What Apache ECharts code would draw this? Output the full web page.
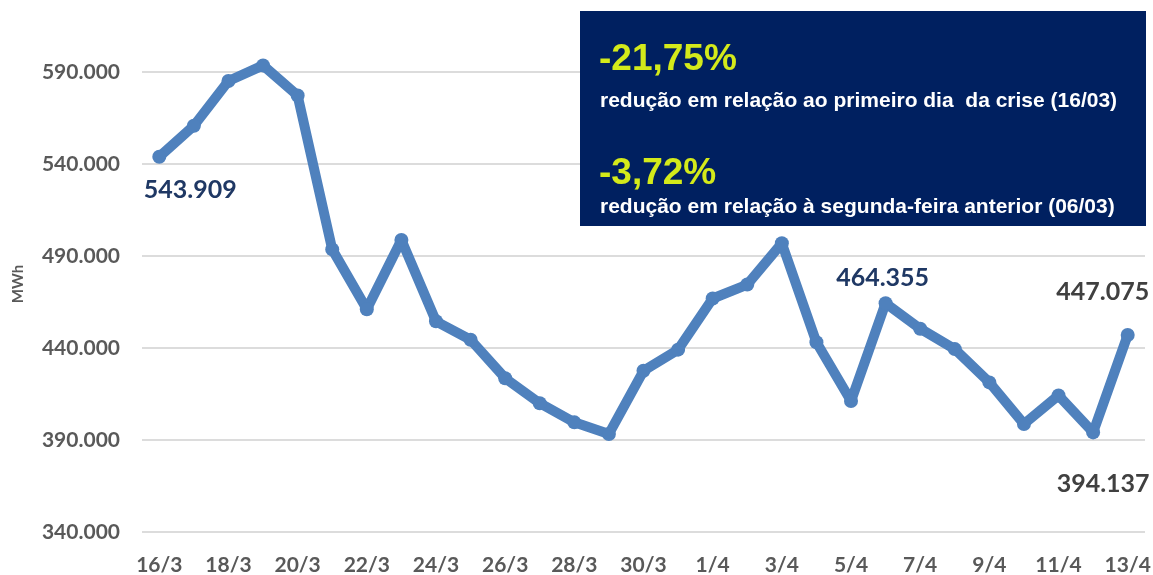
<!DOCTYPE html>
<html>
<head>
<meta charset="utf-8">
<script src="https://cdn.jsdelivr.net/npm/echarts@6/dist/echarts.min.js"></script>
<style>
html,body{margin:0;padding:0;background:#fff;}
#chart{width:1153px;height:575px;}
</style>
</head>
<body>
<div id="chart"></div>
<script>
const categories = ['16/3','17/3','18/3','19/3','20/3','21/3','22/3','23/3','24/3','25/3','26/3','27/3','28/3','29/3','30/3','31/3',
  '1/4','2/4','3/4','4/4','5/4','6/4','7/4','8/4','9/4','10/4','11/4','12/4','13/4'];
const consumo = [543909, 560800, 585100, 593600, 577200, 493600, 461100, 498700, 454500, 444500, 423600, 410000, 399600, 393300, 427600, 439100,
  466900, 474500, 496900, 443100, 411200, 464355, 450500, 439400, 421300, 398700, 414200, 394137, 447075];
const yTicks = [340000, 390000, 440000, 490000, 540000, 590000];
const boxTexts = ['-21,75%', 'redução em relação ao primeiro dia  da crise (16/03)', '-3,72%', 'redução em relação à segunda-feira anterior (06/03)'];
const labelled = {
  '16/3': {position: 'bottom', offset: [31, 9], color: '#1f3864'},
  '6/4': {position: 'top', offset: [-3, -1], color: '#1f3864'},
  '12/4': {position: 'bottom', offset: [10, 27], color: '#404040'},
  '13/4': {position: 'top', offset: [-25, -19], color: '#404040'}
};

function fmt(v){ return String(v).replace(/\B(?=(\d{3})+(?!\d))/g, '.'); }

const seriesData = consumo.map((v, i) => {
  const c = categories[i];
  const item = {value: v};
  if (labelled[c]) {
    const l = labelled[c];
    item.label = {show: true, position: l.position, offset: l.offset, color: l.color,
      fontFamily: 'Lato, sans-serif', fontWeight: 'bold', fontSize: 25,
      formatter: p => fmt(p.value)};
  }
  return item;
});

const chart = echarts.init(document.getElementById('chart'), null, {renderer: 'canvas'});
chart.setOption({
  animation: false,
  backgroundColor: '#ffffff',
  grid: {left: 142, right: 8, top: 72, bottom: 43, containLabel: false, outerBoundsMode: 'none'},
  xAxis: {
    type: 'category',
    data: categories,
    boundaryGap: true,
    axisLine: {show: false},
    axisTick: {show: false},
    axisLabel: {interval: 1, margin: 23, color: '#595959', fontFamily: 'Lato, sans-serif', fontWeight: 'bold', fontSize: 21}
  },
  yAxis: {
    type: 'value',
    min: yTicks[0],
    max: yTicks[yTicks.length - 1],
    interval: 50000,
    name: 'MWh',
    nameLocation: 'middle',
    nameGap: 116,
    nameRotate: 90,
    nameTextStyle: {color: '#595959', fontFamily: 'Lato, sans-serif', fontWeight: 'bold', fontSize: 15, padding: [0, 0, 0, 36]},
    axisLine: {show: false},
    axisTick: {show: false},
    splitLine: {lineStyle: {color: '#dcdcdc', width: 2}},
    axisLabel: {margin: 22, color: '#595959', fontFamily: 'Lato, sans-serif', fontWeight: 'bold', fontSize: 21, formatter: v => fmt(v)}
  },
  series: [{
    type: 'line',
    data: seriesData,
    clip: false,
    symbol: 'circle',
    symbolSize: 14,
    showAllSymbol: true,
    lineStyle: {color: '#4f81bd', width: 10},
    itemStyle: {color: '#4f81bd'},
    z: 3
  }],
  graphic: [
    {type: 'rect', left: 580, top: 11, shape: {width: 566, height: 215}, style: {fill: '#002060'}, z: 10},
    {type: 'text', left: 599, top: 41, z: 11, style: {text: boxTexts[0], fill: '#d4ea1a', font: 'bold 37px "Liberation Sans", Arial, sans-serif'}},
    {type: 'text', left: 600, top: 91, z: 11, style: {text: boxTexts[1], fill: '#ffffff', font: 'bold 21px "Liberation Sans", Arial, sans-serif'}},
    {type: 'text', left: 599, top: 155, z: 11, style: {text: boxTexts[2], fill: '#d4ea1a', font: 'bold 37px "Liberation Sans", Arial, sans-serif'}},
    {type: 'text', left: 600, top: 197, z: 11, style: {text: boxTexts[3], fill: '#ffffff', font: 'bold 21px "Liberation Sans", Arial, sans-serif'}}
  ]
});
</script>
</body>
</html>
